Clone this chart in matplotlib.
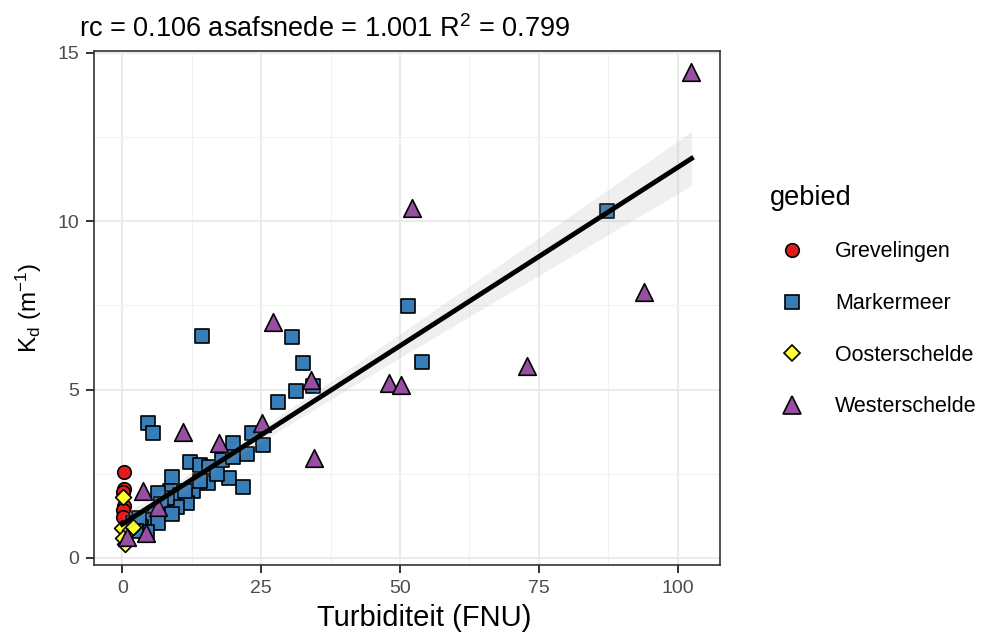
import matplotlib
matplotlib.use("Agg")
import matplotlib.pyplot as plt
import numpy as np
from matplotlib.lines import Line2D

plt.rcParams["font.family"] = ["Liberation Sans", "DejaVu Sans"]
plt.rcParams["mathtext.fontset"] = "custom"
plt.rcParams["mathtext.rm"] = "Liberation Sans"
plt.rcParams["mathtext.it"] = "Liberation Sans"

# turbidity (FNU) and Kd (1/m) per area
grev_x = [0.3, 0.3, 0.2, 0.3, 0.1, 0.1]
grev_y = [2.55, 2.05, 1.95, 1.55, 1.43, 1.22]

mark_x = [87.2, 51.5, 54.0, 30.5, 32.5, 34.4, 31.2, 28.0, 14.4, 4.7, 5.6, 23.4,
          25.3, 22.4, 19.9, 19.3, 21.8, 12.2, 14.0, 15.7, 15.4, 12.7, 8.9, 8.6,
          10.4, 11.7, 9.9, 8.0, 6.5, 5.9, 5.0, 6.5, 3.3, 4.5, 2.0, 11.3, 14.0,
          17.0, 18.0, 20.0, 7.0, 9.0, 3.0, 2.5]
mark_y = [10.3, 7.47, 5.83, 6.55, 5.8, 5.1, 4.95, 4.62, 6.6, 4.0, 3.72, 3.7,
          3.36, 3.1, 3.4, 2.37, 2.1, 2.85, 2.77, 2.7, 2.23, 2.0, 2.4, 2.0,
          1.88, 1.63, 1.52, 1.78, 1.93, 1.34, 1.13, 1.04, 0.93, 0.78, 1.04, 2.0, 2.3,
          2.5, 2.9, 3.0, 1.6, 1.3, 1.2, 0.8]

oost_x = [0.2, 0.0, 1.4, 0.5, 0.2, 2.0]
oost_y = [1.8, 0.9, 0.83, 0.4, 0.6, 0.92]

west_x = [102.5, 52.2, 94.0, 72.9, 48.0, 50.2, 27.1, 34.0, 34.6, 25.1, 11.0,
          17.4, 3.8, 4.2, 0.9, 6.5]
west_y = [14.45, 10.4, 7.9, 5.7, 5.2, 5.15, 7.0, 5.3, 2.98, 4.0, 3.75,
          3.4, 2.0, 0.75, 0.62, 1.5]

slope = 0.106
intercept = 1.001
r2 = 0.799

groups = [
    ("Grevelingen", grev_x, grev_y, "o", "#E41A1C", 95),
    ("Markermeer", mark_x, mark_y, "s", "#377EB8", 100),
    ("Oosterschelde", oost_x, oost_y, "D", "#FFFF33", 65),
    ("Westerschelde", west_x, west_y, "^", "#984EA3", 160),
]

fig = plt.figure(figsize=(9.82, 6.42), dpi=100)
ax = fig.add_axes([0.0957, 0.1199, 0.733 - 0.0957, 0.9206 - 0.1199])

for name, xs, ys, m, c, s in groups:
    ax.scatter(xs, ys, marker=m, s=s, facecolor=c, edgecolor="black",
               linewidth=1.2, zorder=3)

# regression line with confidence band
all_x = np.concatenate([g[1] for g in groups])
all_y = np.concatenate([g[2] for g in groups])
n = len(all_x)
xx = np.linspace(all_x.min(), all_x.max(), 200)
yy = intercept + slope * xx
resid = all_y - (intercept + slope * all_x)
se = np.sqrt(np.sum(resid ** 2) / (n - 2))
sxx = np.sum((all_x - all_x.mean()) ** 2)
ci = 1.4 * se * np.sqrt(1 / n + (xx - all_x.mean()) ** 2 / sxx)
ax.fill_between(xx, yy - ci, yy + ci, color="#999999", alpha=0.15, lw=0, zorder=4)
ax.plot(xx, yy, color="black", lw=3.5, zorder=5)

ax.set_xlim(-5.1, 107.6)
ax.set_ylim(-0.21, 15.06)
ax.set_xticks([0, 25, 50, 75, 100])
ax.set_yticks([0, 5, 10, 15])
ax.set_xticks([12.5, 37.5, 62.5, 87.5], minor=True)
ax.set_yticks([2.5, 7.5, 12.5], minor=True)
ax.grid(which="major", color="#EBEBEB", lw=1.5, zorder=0)
ax.grid(which="minor", color="#F2F2F2", lw=0.8, zorder=0)
ax.set_axisbelow(True)
ax.tick_params(which="major", length=5.5, width=1.4, color="#333333",
               labelsize=14, labelcolor="#4D4D4D", pad=5)
ax.tick_params(which="minor", length=0)
for sp in ax.spines.values():
    sp.set_color("#333333")
    sp.set_linewidth(1.2)

ax.set_xlabel("Turbiditeit (FNU)", fontsize=21, labelpad=3)
ax.xaxis.set_label_coords(0.527, -0.075)
ax.set_ylabel(r"K$_\mathrm{d}$ (m$^{-1}$)", fontsize=17.5, labelpad=10)
fig.text(0.0805, 0.942, f"rc = {slope} asafsnede = {intercept} R$^2$ = {r2}",
         fontsize=19.5, ha="left", va="baseline")

handles = [Line2D([], [], marker=m, ls="none", markersize=np.sqrt(s),
                  markerfacecolor=c, markeredgecolor="black", markeredgewidth=1.2)
           for name, xs, ys, m, c, s in groups]
labels = [g[0] for g in groups]
leg = fig.legend(handles, labels, title="gebied", loc="upper left",
                 bbox_to_anchor=(0.784, 0.712), frameon=False, fontsize=15.5,
                 title_fontsize=19.5, labelspacing=1.42, handlelength=2.1,
                 handletextpad=0.92, borderpad=0, borderaxespad=0)
leg._legend_box.align = "left"

fig.savefig("out.png", dpi=100)
